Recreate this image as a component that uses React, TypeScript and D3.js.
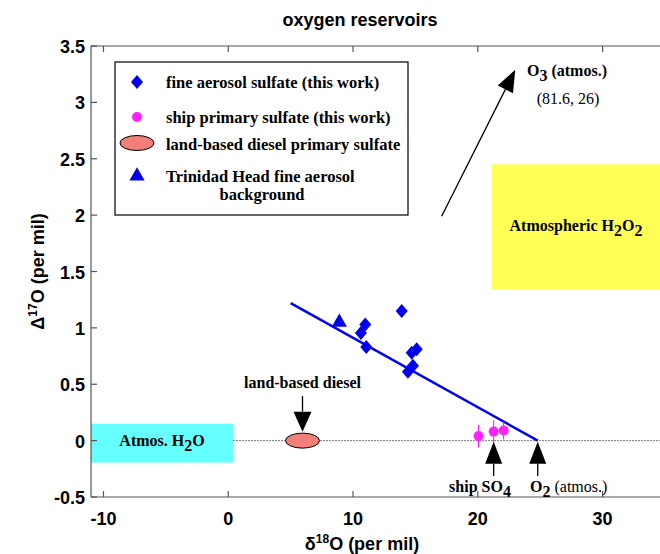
import React from 'react';
import * as d3 from 'd3';

// fine aerosol sulfate (this work)
const aerosolX = [13.9, 10.98, 10.63, 11.06, 15.1, 14.7, 14.8, 14.4];
const aerosolY = [1.15, 1.03, 0.955, 0.83, 0.81, 0.78, 0.665, 0.61];
// ship primary sulfate (this work), with error bars
const shipX = [20.06, 21.27, 22.07];
const shipY = [0.04, 0.08, 0.09];
const shipErr = [0.1, 0.1, 0.08];
// Trinidad Head background
const trinidadX = [8.9];
const trinidadY = [1.04];
// land-based diesel
const dieselX = 5.95;
const dieselY = 0;
// mixing line
const lineX = [5.0, 24.8];
const lineY = [1.22, 0];

const xTicks = [-10, 0, 10, 20, 30];
const yTicks = [-0.5, 0, 0.5, 1, 1.5, 2, 2.5, 3, 3.5];

const W = 660;
const H = 554;
const left = 91;
const right = 665;
const top = 46;
const bottom = 497;

const serif = '"Liberation Serif", "Times New Roman", serif';
const sans = '"Liberation Sans", Arial, sans-serif';
const fs = 16;

function Arrow({ x1, y1, x2, y2, headLen = 20, headW = 17 }: any) {
  // arrow from (x1,y1) to tip (x2,y2), pixel coords
  const ang = Math.atan2(y2 - y1, x2 - x1);
  const bx = x2 - headLen * Math.cos(ang);
  const by = y2 - headLen * Math.sin(ang);
  const px = (-Math.sin(ang) * headW) / 2;
  const py = (Math.cos(ang) * headW) / 2;
  return (
    <g>
      <line x1={x1} y1={y1} x2={bx} y2={by} stroke="black" strokeWidth={1.3} />
      <path d={`M${x2},${y2}L${bx + px},${by + py}L${bx - px},${by - py}Z`} fill="black" />
    </g>
  );
}

export default function App() {
  const x = d3.scaleLinear().domain([-11, 35]).range([left, right]);
  const y = d3.scaleLinear().domain([-0.5, 3.5]).range([bottom, top]);

  const diamond = 'M0,-7L6,0L0,7L-6,0Z';
  const triangle = d3.symbol().type(d3.symbolTriangle).size(100)();
  const line = d3.line<number>().x((d, i) => x(lineX[i])).y((d, i) => y(lineY[i]));

  return (
    <svg
      width={W}
      height={H}
      style={{ position: 'absolute', left: 0, top: 0, background: 'white' }}
    >
      <rect width={W} height={H} fill="white" />
      {/* title */}
      <text x={360} y={26} textAnchor="middle" fontFamily={sans} fontWeight="bold" fontSize={18}>
        oxygen reservoirs
      </text>

      {/* reservoir boxes */}
      <rect x={x(-11)} y={y(0.15)} width={x(0.4) - x(-11)} height={y(-0.195) - y(0.15)} fill="#66ffff" />
      <text x={162} y={y(0) + 5} textAnchor="middle" fontFamily={serif} fontWeight="bold" fontSize={fs}>
        Atmos. H<tspan dy={5}>2</tspan><tspan dy={-5}>O</tspan>
      </text>
      <rect x={x(21.1)} y={y(2.45)} width={x(35) - x(21.1)} height={y(1.34) - y(2.45)} fill="#ffff55" />
      <text x={576} y={y(1.9) + 5} textAnchor="middle" fontFamily={serif} fontWeight="bold" fontSize={fs}>
        Atmospheric H<tspan dy={5}>2</tspan><tspan dy={-5}>O</tspan><tspan dy={5}>2</tspan>
      </text>

      {/* zero line */}
      <line x1={x(0.4)} x2={right} y1={y(0)} y2={y(0)} stroke="black" strokeWidth={0.7} strokeDasharray="1.5 1.5" />

      {/* axes frame */}
      <g stroke="#555" strokeWidth={1.2} fill="none">
        <line x1={left} x2={right} y1={top} y2={top} />
        <line x1={left} x2={right} y1={bottom} y2={bottom} />
        <line x1={left} x2={left} y1={top} y2={bottom} />
        {xTicks.map((t) => (
          <g key={'xt' + t}>
            <line x1={x(t)} x2={x(t)} y1={bottom} y2={bottom - 6} />
            <line x1={x(t)} x2={x(t)} y1={top} y2={top + 6} />
          </g>
        ))}
        {yTicks.map((t) => (
          <line key={'yt' + t} x1={left} x2={left + 6} y1={y(t)} y2={y(t)} />
        ))}
      </g>
      {xTicks.map((t) => (
        <text key={'xl' + t} x={x(t)} y={bottom + 28} textAnchor="middle" fontFamily={sans} fontWeight="bold" fontSize={18}>
          {t}
        </text>
      ))}
      {yTicks.map((t) => (
        <text key={'yl' + t} x={left - 6} y={y(t) + 7} textAnchor="end" fontFamily={sans} fontWeight="bold" fontSize={18}>
          {t}
        </text>
      ))}
      <text x={362} y={550} textAnchor="middle" fontFamily={sans} fontWeight="bold" fontSize={18}>
        δ<tspan dy={-7} fontSize={12}>18</tspan><tspan dy={7}>O (per mil)</tspan>
      </text>
      <text transform={`translate(44,${(top + bottom) / 2}) rotate(-90)`} textAnchor="middle" fontFamily={sans} fontWeight="bold" fontSize={18}>
        Δ<tspan dy={-7} fontSize={12}>17</tspan><tspan dy={7}>O (per mil)</tspan>
      </text>

      {/* mixing line */}
      <path d={line(lineX) || ''} stroke="#0000ee" strokeWidth={2.5} fill="none" />

      {/* diesel ellipse */}
      <ellipse cx={x(dieselX)} cy={y(dieselY)} rx={17} ry={7.5} fill="#f08078" stroke="black" strokeWidth={1} />

      {/* ship points with error bars */}
      {shipX.map((v, i) => (
        <g key={'s' + i}>
          <line x1={x(v)} x2={x(v)} y1={y(shipY[i] + shipErr[i])} y2={y(shipY[i] - shipErr[i])} stroke="#ff00ff" strokeWidth={1} />
          <circle cx={x(v)} cy={y(shipY[i])} r={5} fill="#ff22ff" />
        </g>
      ))}

      {/* aerosol diamonds */}
      {aerosolX.map((v, i) => (
        <path key={'a' + i} d={diamond} transform={`translate(${x(v)},${y(aerosolY[i])})`} fill="#0000ee" />
      ))}
      {trinidadX.map((v, i) => (
        <path key={'t' + i} d={triangle || ''} transform={`translate(${x(v)},${y(trinidadY[i]) - 1})`} fill="#0000ee" />
      ))}

      {/* annotations */}
      <text x={x(dieselX)} y={388} textAnchor="middle" fontFamily={serif} fontWeight="bold" fontSize={fs}>
        land-based diesel
      </text>
      <Arrow x1={x(dieselX)} y1={396} x2={x(dieselX)} y2={y(0) - 9} headLen={20} headW={18} />
      <Arrow x1={x(21.27)} y1={476} x2={x(21.27)} y2={y(0) + 1} headLen={22} headW={17} />
      <Arrow x1={x(24.8)} y1={476} x2={x(24.8)} y2={y(0) + 1} headLen={22} headW={17} />
      <text x={480} y={492} textAnchor="middle" fontFamily={serif} fontWeight="bold" fontSize={fs}>
        ship SO<tspan dy={5}>4</tspan>
      </text>
      <text x={530} y={492} fontFamily={serif} fontSize={fs}>
        <tspan fontWeight="bold">O</tspan><tspan dy={5} fontWeight="bold">2</tspan><tspan dy={-5}> (atmos.)</tspan>
      </text>

      <Arrow x1={x(17.1)} y1={y(1.99)} x2={x(23.0)} y2={y(3.29)} headLen={22} headW={17} />
      <text x={527} y={76} fontFamily={serif} fontSize={fs}>
        <tspan fontWeight="bold">O</tspan><tspan dy={5} fontWeight="bold">3</tspan><tspan dy={-5} fontWeight="bold"> (atmos.)</tspan>
      </text>
      <text x={568} y={104} textAnchor="middle" fontFamily={serif} fontSize={16}>
        (81.6, 26)
      </text>

      {/* legend */}
      <rect x={115} y={62} width={293} height={153} fill="white" stroke="black" strokeWidth={1.2} />
      <path d={diamond} transform="translate(137,82)" fill="#0000ee" />
      <circle cx={137} cy={117} r={5} fill="#ff22ff" />
      <ellipse cx={137} cy={143} rx={17} ry={7.5} fill="#f08078" stroke="black" strokeWidth={1} />
      <path d={triangle || ''} transform="translate(137,176)" fill="#0000ee" />
      <g fontFamily={serif} fontWeight="bold" fontSize={16.5}>
        <text x={166} y={88}>fine aerosol sulfate (this work)</text>
        <text x={166} y={123}>ship primary sulfate (this work)</text>
        <text x={166} y={150}>land-based diesel primary sulfate</text>
        <text x={166} y={182}>Trinidad Head fine aerosol</text>
        <text x={262} y={200} textAnchor="middle">background</text>
      </g>
    </svg>
  );
}
